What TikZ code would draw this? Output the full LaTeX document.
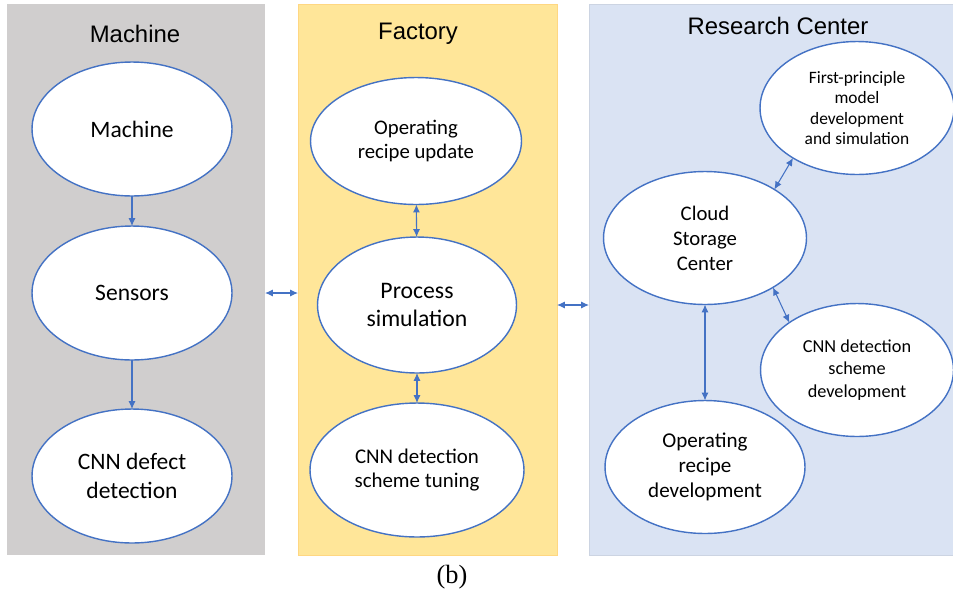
\documentclass[tikz,border=0pt]{standalone}
\usepackage{fontspec}
\setmainfont{Carlito}
\newfontfamily\headfont{Liberation Sans}
\newfontfamily\capfont{Liberation Serif}
\usepackage{xcolor}
\usetikzlibrary{shapes,arrows.meta,positioning}

\definecolor{machinegray}{HTML}{D0CECE}
\definecolor{factoryyellow}{HTML}{FFE699}
\definecolor{researchblue}{HTML}{DAE3F3}
\definecolor{linkblue}{HTML}{4472C4}

\begin{document}
\begin{tikzpicture}[
    x=0.02cm, y=-0.02cm,
    panel/.style={rectangle, minimum height=11.02cm, inner sep=0pt, outer sep=0pt},
    bubble/.style={ellipse, draw=linkblue, fill=white, line width=0.8pt, align=center, inner sep=0pt, outer sep=0pt},
    arrow/.style={-{Latex[length=4.5pt,width=4pt]}, draw=linkblue, line width=0.6pt},
    twoway/.style={{Latex[length=4.5pt,width=4pt]}-{Latex[length=4.5pt,width=4pt]}, draw=linkblue, line width=0.6pt},
    heading/.style={font=\headfont\fontsize{13.6}{16}\selectfont}
]
    \path[use as bounding box, fill=white] (0,0) rectangle (953,596);

    % Panels
    \node[panel, fill=machinegray, minimum width=5.16cm] (machinebox) at (136,279.5) {};
    \node[panel, fill=factoryyellow, draw=factoryyellow!85!orange, minimum width=5.18cm] (factorybox) at (427.5,279.5) {};
    \node[panel, fill=researchblue, draw=researchblue!85!gray, minimum width=7.28cm] (researchbox) at (771,279.5) {};

    \node[heading] (machinetitle) at (135,34) {Machine};
    \node[heading] (factorytitle) at (418,34) {Factory};
    \node[heading] (researchtitle) at (778,26) {Research Center};

    % Machine column
    \node[bubble, minimum width=4cm, minimum height=2.68cm, font=\fontsize{13.4}{16.4}\selectfont] (machine) at (132,129) {Machine};
    \node[bubble, minimum width=4cm, minimum height=2.68cm, font=\fontsize{13.4}{16.4}\selectfont] (sensors) at (132,293) {Sensors};
    \node[bubble, minimum width=4cm, minimum height=2.68cm, font=\fontsize{13.4}{16.4}\selectfont] (defect) at (132,476) {CNN defect\\detection};

    \draw[arrow] (machine) -- (sensors);
    \draw[arrow] (sensors) -- (defect);

    % Factory column
    \node[bubble, minimum width=4.22cm, minimum height=2.54cm, font=\fontsize{11.8}{13.2}\selectfont] (update) at (416,141) {Operating\\recipe update};
    \node[bubble, minimum width=3.98cm, minimum height=2.72cm, font=\fontsize{13.5}{16}\selectfont] (procsim) at (417,305) {Process\\simulation};
    \node[bubble, minimum width=4.28cm, minimum height=2.68cm, font=\fontsize{11.9}{14.2}\selectfont] (tuning) at (417,470) {CNN detection\\scheme tuning};

    \draw[twoway] (update) -- (procsim);
    \draw[twoway] (procsim) -- (tuning);

    % Research center
    \node[bubble, minimum width=3.88cm, minimum height=2.66cm, font=\fontsize{9.9}{11.6}\selectfont] (firstprin) at (857,108) {First-principle\\model\\development\\and simulation};
    \node[bubble, minimum width=4.06cm, minimum height=2.66cm, font=\fontsize{11.8}{14.2}\selectfont] (cloud) at (705,238) {Cloud\\Storage\\Center};
    \node[bubble, minimum width=3.86cm, minimum height=2.66cm, font=\fontsize{10.4}{12.8}\selectfont] (cnndev) at (857,370) {CNN detection\\scheme\\development};
    \node[bubble, minimum width=4cm, minimum height=2.66cm, font=\fontsize{12}{14.2}\selectfont] (recipedev) at (705,467) {Operating\\recipe\\development};

    \draw[twoway] (cloud.35) -- (firstprin.218);
    \draw[twoway] (cloud.324) -- (cnndev.145);
    \draw[twoway] (cloud) -- (recipedev);

    % Links between the three sites
    \draw[twoway] (machinebox.east |- sensors) -- (factorybox.west |- sensors);
    \draw[twoway] (factorybox.east |- procsim) -- (researchbox.west |- procsim);

    \node[font=\capfont\fontsize{15}{18}\selectfont] (caption) at (452,577) {(b)};
\end{tikzpicture}
\end{document}
